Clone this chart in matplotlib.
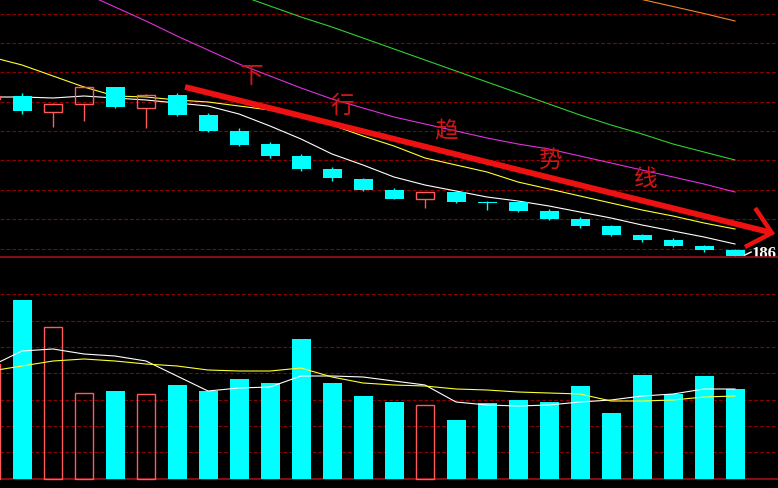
import numpy as np
import matplotlib
matplotlib.use("Agg")
import matplotlib.pyplot as plt

plt.rcParams['font.family'] = ['Noto Sans CJK SC', 'DejaVu Sans']

# ---------------- data ----------------
# bar index -1 is the partially visible bar at the left edge
idx = list(range(-1, 24))
opens  = [201.4, 201.7, 200.1, 200.9, 202.6, 200.5, 201.8, 199.8, 198.2, 196.9, 195.7, 194.4, 193.4,
          192.3, 191.4, 192.1, 191.1, 191.1, 190.2, 189.4, 188.7, 187.8, 187.3, 186.7, 186.3]
closes = [201.7, 200.2, 200.9, 202.6, 200.6, 201.8, 199.8, 198.2, 196.8, 195.7, 194.4, 193.5, 192.3,
          191.4, 192.1, 191.1, 191.0, 190.2, 189.4, 188.7, 187.8, 187.3, 186.7, 186.3, 185.7]
highs  = [201.7, 202.0, 201.0, 202.7, 202.6, 201.9, 202.0, 200.0, 198.5, 197.1, 195.9, 194.6, 193.5,
          192.5, 192.1, 192.2, 191.2, 191.2, 190.4, 189.6, 188.8, 187.9, 187.5, 186.8, 186.4]
lows   = [201.4, 199.9, 198.6, 199.2, 200.5, 198.5, 199.7, 198.1, 196.7, 195.5, 194.2, 193.2, 192.2,
          191.4, 190.5, 191.0, 190.3, 190.1, 189.3, 188.5, 187.7, 187.1, 186.6, 186.1, 185.6]

nan = float('nan')
ma_white  = [201.6, 201.6, 201.5, 201.7, 201.5, 201.3, 201.0, 200.7, 199.9, 198.7, 197.4, 195.9, 194.8,
             193.6, 192.8, 192.2, 191.6, 191.2, 190.7, 190.1, 189.5, 188.8, 188.2, 187.6, 186.9]
ma_yellow = [205.6, 204.8, 203.7, 202.6, 201.7, 201.6, 201.3, 201.1, 200.7, 200.3, 199.6, 198.8, 197.7,
             196.7, 195.5, 194.8, 194.1, 193.1, 192.4, 191.7, 191.0, 190.3, 189.7, 189.0, 188.4]
ma_magenta = [nan, nan, nan, 212.0, 210.6, 209.2, 207.7, 206.3, 204.9, 203.7, 202.5, 201.4, 200.5,
              199.6, 198.9, 198.2, 197.5, 196.9, 196.4, 195.7, 195.0, 194.3, 193.6, 192.9, 192.1]
ma_green  = [nan, nan, nan, nan, nan, nan, nan, 212.9, 211.8, 210.7, 209.6, 208.6, 207.5,
             206.4, 205.3, 204.2, 203.1, 202.0, 200.9, 199.8, 198.8, 197.9, 196.9, 196.1, 195.3]
ma_orange = [nan] * 20 + [212.1, 211.35, 210.65, 209.95, 209.2]

volume = [115, 179, 152, 86, 88, 85, 94, 88, 100, 96, 140, 96, 83,
          77, 74, 59, 76, 79, 77, 93, 66, 104, 85, 103, 90]
vol_ma_white  = [113, 128, 130, 125, 123, 118, 103, 88, 91, 92, 103, 103, 102,
                 98, 94, 77, 74, 73, 74, 77, 79, 83, 85, 90, 90]
vol_ma_yellow = [108, 113, 118, 120, 118, 115, 113, 109, 108, 108, 111, 102, 96,
                 94, 93, 90, 89, 87, 86, 85, 78, 78, 79, 82, 83]

price_grid = [209.9, 207.0, 204.1, 201.1, 198.2, 195.3, 192.3, 189.4, 186.4]
vol_grid = [185, 158, 132, 106, 79, 53, 27]

trend_chars = ['下', '行', '趋', '势', '线']
trend_char_x = [7.39, 10.32, 13.68, 17.06, 20.13]
trend_char_y = [203.7, 200.8, 198.2, 195.3, 193.4]
arrow_shaft_x = [5.26, 24.15]
arrow_shaft_y = [202.6, 188.05]
arrow_head_x = [23.65, 24.19, 23.32]
arrow_head_y = [190.5, 188.0, 186.6]
last_label = '186'

# ---------------- styling ----------------
BG = 'black'
CYAN = '#00ffff'
UPRED = '#ff5a5a'
GRID = '#8b0000'
SOLID = '#a01010'
W = 19 / 31
LW = 0.8

fig = plt.figure(figsize=(7.78, 4.89), dpi=100, facecolor=BG)
H = 489.0
axp = fig.add_axes([0, (H - 258) / H, 1, 258 / H], facecolor=BG)
axv = fig.add_axes([0, 0, 1, (H - 258) / H], facecolor=BG)

xlim = (-22 / 31, (778 - 22) / 31)
for ax in (axp, axv):
    ax.set_xlim(*xlim)
    ax.set_xticks([])
    ax.set_yticks([])
    for s in ax.spines.values():
        s.set_visible(False)

axp.set_ylim(185.6, 211.4)
axv.set_ylim(-9, 222)

# grids
for g in price_grid:
    axp.axhline(g, color=GRID, lw=0.8, dashes=(3.5, 1.8), zorder=1)
for g in vol_grid:
    axv.axhline(g, color=GRID, lw=0.8, dashes=(3.5, 1.8), zorder=1)
axv.axhline(222, color=SOLID, lw=1.2, zorder=1, clip_on=False)
axv.axhline(0, color=SOLID, lw=1.2, zorder=1)

x = np.array(idx, dtype=float)
o = np.array(opens); c = np.array(closes); h = np.array(highs); l = np.array(lows)
up = c > o

# moving averages (price)
axp.plot(x, ma_white, color='white', lw=LW, zorder=2)
axp.plot(x, ma_yellow, color='#ffff30', lw=LW, zorder=2)
axp.plot(x, ma_magenta, color='#e030e0', lw=LW, zorder=2)
axp.plot(x, ma_green, color='#30d030', lw=LW, zorder=2)
axp.plot(x, ma_orange, color='#f08a30', lw=LW, zorder=2)

# candles
for xi, oi, ci, hi, li, u in zip(x, o, c, h, l, up):
    top, bot = max(oi, ci), min(oi, ci)
    if u:
        axp.vlines(xi, li, bot, color=UPRED, lw=1, zorder=3)
        axp.vlines(xi, top, hi, color=UPRED, lw=1, zorder=3)
        axp.bar(xi, top - bot, bottom=bot, width=W - 0.03, facecolor='none',
                edgecolor=UPRED, lw=1, zorder=3)
    else:
        axp.vlines(xi, li, hi, color=CYAN, lw=1, zorder=3)
        axp.bar(xi, max(top - bot, 0.1), bottom=bot, width=W, color=CYAN,
                lw=0, zorder=3)

# trend arrow & text
axp.plot(arrow_shaft_x, arrow_shaft_y, color='#ee1111', lw=4.2,
         solid_capstyle='butt', zorder=4)
axp.plot(arrow_head_x, arrow_head_y, color='#ee1111', lw=3.2,
         solid_joinstyle='miter', solid_capstyle='butt', zorder=4)
for ch, tx, ty in zip(trend_chars, trend_char_x, trend_char_y):
    axp.text(tx, ty, ch, color='#d01515', fontsize=17, ha='center', va='center',
             zorder=5)

# last price label
axp.plot([x[-1] + 0.32, x[-1] + 0.52], [closes[-1] + 0.1, closes[-1] + 0.4],
         color='white', lw=1, zorder=5)
axp.text(x[-1] + 0.55, 186.0, last_label, color='white', fontsize=12,
         fontweight='bold', family=['Liberation Serif', 'DejaVu Serif'],
         ha='left', va='center', zorder=5)

# volume
vol = np.array(volume, dtype=float)
for xi, vi, u in zip(x, vol, up):
    if u:
        axv.bar(xi, vi, bottom=0, width=W - 0.03, facecolor='none',
                edgecolor=UPRED, lw=1, zorder=3)
    else:
        axv.bar(xi, vi, bottom=0, width=W, color=CYAN, lw=0, zorder=3)
axv.plot(x, vol_ma_white, color='white', lw=LW, zorder=4)
axv.plot(x, vol_ma_yellow, color='#ffff30', lw=LW, zorder=4)

fig.savefig('out.png', dpi=100, facecolor=BG)
